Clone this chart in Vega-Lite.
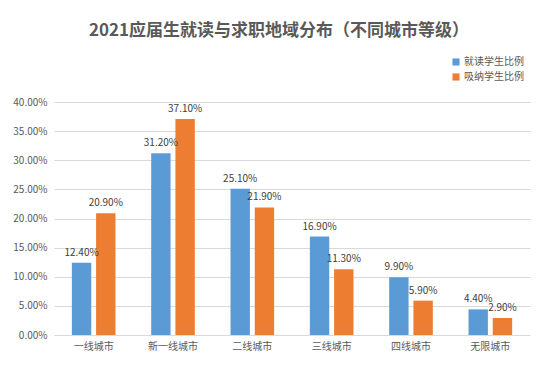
{
  "$schema": "https://vega.github.io/schema/vega-lite/v6.json",
  "autosize": "none",
  "width": 476,
  "height": 233,
  "padding": {"left": 54, "top": 102, "right": 24, "bottom": 49},
  "background": "white",
  "title": {
    "text": "2021应届生就读与求职地域分布（不同城市等级）",
    "font": "Noto Sans CJK SC",
    "fontSize": 17,
    "fontWeight": "bold",
    "color": "#595959",
    "anchor": "middle",
    "dx": -13,
    "offset": 17
  },
  "data": {
    "values": [
      {"city": "一线城市", "series": "就读学生比例", "value": 0.124},
      {"city": "一线城市", "series": "吸纳学生比例", "value": 0.209},
      {"city": "新一线城市", "series": "就读学生比例", "value": 0.312},
      {"city": "新一线城市", "series": "吸纳学生比例", "value": 0.371},
      {"city": "二线城市", "series": "就读学生比例", "value": 0.251},
      {"city": "二线城市", "series": "吸纳学生比例", "value": 0.219},
      {"city": "三线城市", "series": "就读学生比例", "value": 0.169},
      {"city": "三线城市", "series": "吸纳学生比例", "value": 0.113},
      {"city": "四线城市", "series": "就读学生比例", "value": 0.099},
      {"city": "四线城市", "series": "吸纳学生比例", "value": 0.059},
      {"city": "无限城市", "series": "就读学生比例", "value": 0.044},
      {"city": "无限城市", "series": "吸纳学生比例", "value": 0.029}
    ]
  },
  "encoding": {
    "x": {
      "field": "city",
      "type": "nominal",
      "sort": null,
      "scale": {"paddingInner": 0.45, "paddingOuter": 0.225},
      "axis": {
        "title": null,
        "labelAngle": 0,
        "domain": false,
        "ticks": false,
        "labelFont": "Noto Sans CJK SC",
        "labelFontSize": 10,
        "labelColor": "#595959",
        "labelPadding": 6
      }
    },
    "xOffset": {
      "field": "series",
      "type": "nominal",
      "sort": ["就读学生比例", "吸纳学生比例"],
      "scale": {"paddingInner": 0.2, "paddingOuter": 0}
    },
    "y": {
      "field": "value",
      "type": "quantitative",
      "scale": {"domain": [0, 0.4], "nice": false},
      "axis": {
        "title": null,
        "format": ".2%",
        "values": [0, 0.05, 0.1, 0.15, 0.2, 0.25, 0.3, 0.35, 0.4],
        "labelOverlap": false,
        "domain": false,
        "ticks": false,
        "gridColor": "#d9d9d9",
        "labelFont": "Noto Sans CJK SC",
        "labelFontSize": 10,
        "labelColor": "#595959",
        "labelPadding": 7
      }
    }
  },
  "layer": [
    {
      "mark": {"type": "bar"},
      "encoding": {
        "color": {
          "field": "series",
          "type": "nominal",
          "sort": ["就读学生比例", "吸纳学生比例"],
          "scale": {"domain": ["就读学生比例", "吸纳学生比例"], "range": ["#5B9BD5", "#ED7D31"]},
          "legend": {
            "title": null,
            "orient": "none",
            "legendX": 397,
            "legendY": -45,
            "symbolType": "square",
            "symbolSize": 50,
            "symbolStrokeWidth": 0,
            "labelFont": "Noto Sans CJK SC",
            "labelFontSize": 10,
            "labelColor": "#595959",
            "rowPadding": 5,
            "labelOffset": 3
          }
        }
      }
    },
    {
      "mark": {
        "type": "text",
        "baseline": "bottom",
        "dy": -5,
        "font": "Noto Sans CJK SC",
        "fontSize": 10,
        "color": "#404040"
      },
      "encoding": {
        "text": {"field": "value", "type": "quantitative", "format": ".2%"}
      }
    }
  ],
  "config": {"view": {"stroke": null}}
}
